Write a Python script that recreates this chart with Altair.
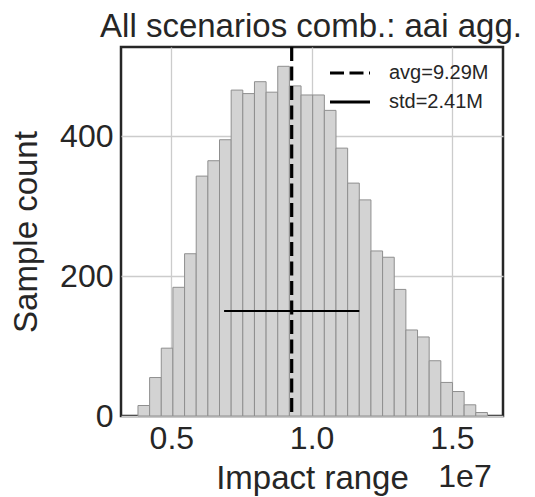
import altair as alt
import pandas as pd

# ---- data ----
counts = [15, 55, 97, 184, 232, 343, 365, 395, 466, 461, 478, 463, 500, 472, 459,
          459, 437, 383, 333, 309, 236, 227, 181, 123, 113, 79, 48, 35, 16, 5]
bin_first_edge = 3.811e6
bin_width = 4.152e5
avg_value = 9.29e6
std_value = 2.41e6
std_line_count = 150
x_tick_values = [5e6, 1e7, 1.5e7]
y_tick_values = [0, 200, 400]
legend_labels = ["avg=9.29M", "std=2.41M"]
x_domain = [3.206e6, 1.6822e7]
y_domain = [0, 527.6]
title_text = "All scenarios comb.: aai agg."
offset_label = "1e7"

bar_rows = [{"start": bin_first_edge + i * bin_width,
             "end": bin_first_edge + (i + 1) * bin_width,
             "n": c} for i, c in enumerate(counts)]
avg_rows = [{"x": avg_value, "kind": legend_labels[0]}]
std_rows = [{"x": avg_value - std_value, "x2": avg_value + std_value,
             "y": std_line_count, "kind": legend_labels[1]}]

FONT = "Liberation Sans"
TXT = "#262626"

xscale = alt.Scale(domain=x_domain, nice=False, zero=False)
yscale = alt.Scale(domain=y_domain, nice=False)

dash_scale = alt.Scale(domain=legend_labels, range=[[14, 5.5], [1, 0]])

legend = alt.Legend(
    title=None, orient="none", legendX=219, legendY=16,
    symbolType="M-4,0H4", symbolSize=100, symbolStrokeColor="black",
    symbolFillColor="transparent", symbolStrokeWidth=3,
    labelFont=FONT, labelFontSize=20, labelColor=TXT, labelOffset=29,
)

bars = alt.Chart(alt.Data(values=bar_rows)).transform_filter(
    "isValid(datum.start) && isValid(datum.end) && datum.n > 0"
).mark_rect(
    fill="#d3d3d3", stroke="#8f8f8f", strokeWidth=1
).encode(
    x=alt.X("start:Q", scale=xscale,
            axis=alt.Axis(values=x_tick_values,
                          labelExpr="format(datum.value / 1e7, '.1f')",
                          title="Impact range", titleY=72.3, titleX=191,
                          titleBaseline="alphabetic", titleAlign="center",
                          labelPadding=7)),
    x2="end:Q",
    y=alt.Y("n:Q", scale=yscale,
            axis=alt.Axis(values=y_tick_values, title="Sample count",
                          titleX=-85, titleY=184.5, titleBaseline="alphabetic",
                          titleAlign="center", labelPadding=8)),
    y2=alt.Y2(datum=0),
)

avg_rule = alt.Chart(alt.Data(values=avg_rows)).mark_rule(
    color="black", strokeWidth=3.2
).encode(
    x=alt.X("x:Q", scale=xscale),
    strokeDash=alt.StrokeDash("kind:N", scale=dash_scale, legend=legend),
)

std_rule = alt.Chart(alt.Data(values=std_rows)).mark_rule(
    color="black", strokeWidth=2
).encode(
    x=alt.X("x:Q", scale=xscale),
    x2="x2:Q",
    y=alt.Y("y:Q", scale=yscale),
    strokeDash=alt.StrokeDash("kind:N", scale=dash_scale, legend=legend),
)

offset_text = alt.Chart(alt.Data(values=[{"t": offset_label}])).mark_text(
    font=FONT, fontSize=32, color=TXT, align="right", baseline="alphabetic"
).encode(text="t:N", x=alt.value(370.7), y=alt.value(440.3))

title_mark = alt.Chart(alt.Data(values=[{"t": title_text}])).mark_text(
    font=FONT, fontSize=33, color=TXT, align="center", baseline="alphabetic"
).encode(text="t:N", x=alt.value(190), y=alt.value(-10))

chart = alt.layer(bars, avg_rule, std_rule, offset_text, title_mark).properties(
    width=382, height=369,
    autosize=alt.AutoSizeParams(type="none"),
    padding={"left": 113, "top": 39, "right": 24, "bottom": 88},
).configure(
    background="white"
).configure_view(
    stroke="#262626", strokeWidth=2.5
).configure_mark(
    invalid="filter"
).configure_axis(
    grid=True, gridColor="#cccccc", gridWidth=1.3, domain=False, ticks=False,
    tickSize=0, labelFont=FONT, labelFontSize=32, labelColor=TXT,
    titleFont=FONT, titleFontSize=33, titleColor=TXT, titleFontWeight="normal",
).configure_legend(
    rowPadding=9, padding=0
)

chart.save("out.html", embed_options={"renderer": "svg", "actions": False})
